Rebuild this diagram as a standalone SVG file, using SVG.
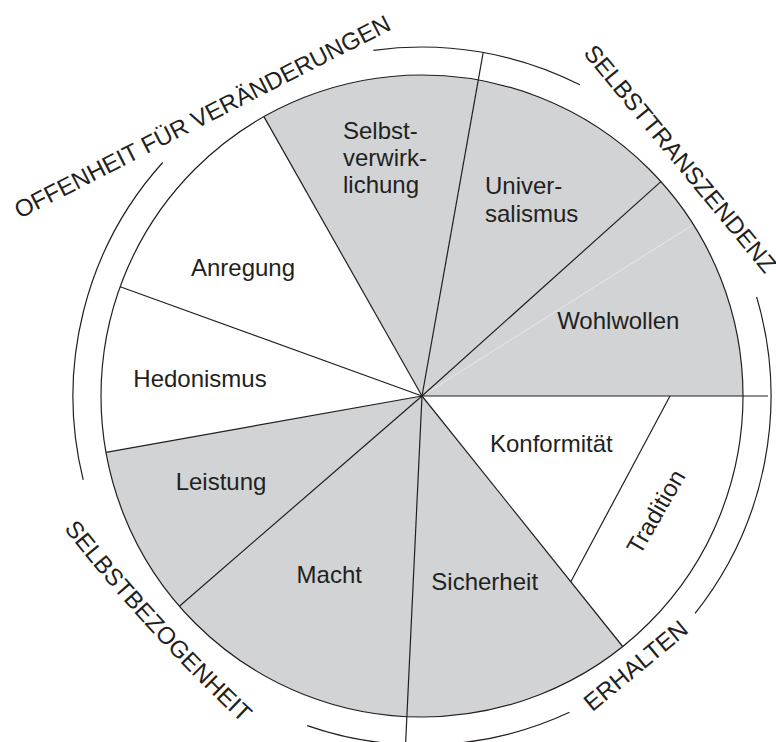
<svg xmlns="http://www.w3.org/2000/svg" width="776" height="742" viewBox="0 0 776 742">
  <style>
    text { font-family: "Liberation Sans", Arial, Helvetica, sans-serif; font-size: 24px; fill: #231f20; }
    .mid { text-anchor: middle; }
    .ln { stroke: #231f20; stroke-width: 1.2; fill: none; }
    .gray { fill: #d1d3d4; stroke: none; }
  </style>
  <rect width="776" height="742" fill="#ffffff"/>

  <!-- sectors fill -->
  <g id="fills">
    <path class="gray" d="M422,396 L743,396 A321,321 0 0 0 263.9,116.6 Z"/>
    <path class="gray" d="M422,396 L106,452.3 A321,321 0 0 0 622.7,646.5 Z"/>
    <line x1="422" y1="396" x2="693.3" y2="224.5" stroke="#ffffff" stroke-width="0.6" opacity="0.8"/>
  </g>

  <g id="connectors">
    <circle class="ln" cx="422" cy="396" r="321"/>
    <!-- outer arcs -->
    <path class="ln" d="M373.4,50.4 A349,349 0 0 1 579.9,84.8"/>
    <path class="ln" d="M162.7,162.5 A349,349 0 0 0 83.2,479.8"/>
    <path class="ln" d="M756.6,296.9 A349,349 0 0 1 695.1,613.3"/>
    <path class="ln" d="M569.5,712.3 A349,349 0 0 1 307.2,725.6"/>
    <!-- spokes -->
    <line class="ln" x1="422" y1="396" x2="768" y2="396"/>
    <line class="ln" x1="422" y1="396" x2="660.9" y2="181.6"/>
    <line class="ln" x1="422" y1="396" x2="483.2" y2="52.4"/>
    <line class="ln" x1="422" y1="396" x2="263.9" y2="116.6"/>
    <line class="ln" x1="422" y1="396" x2="120.2" y2="286.7"/>
    <line class="ln" x1="422" y1="396" x2="106" y2="452.3"/>
    <line class="ln" x1="422" y1="396" x2="179.4" y2="606.2"/>
    <line class="ln" x1="422" y1="396" x2="405.5" y2="745.6"/>
    <line class="ln" x1="422" y1="396" x2="622.7" y2="646.5"/>
    <line class="ln" x1="670" y1="396" x2="570.8" y2="581.8"/>
  </g>

  <g id="selbstverwirklichung">
    <text x="343" y="139">Selbst-</text>
    <text x="343" y="166">verwirk-</text>
    <text x="343" y="193">lichung</text>
  </g>
  <g id="universalismus">
    <text x="485" y="193.5">Univer-</text>
    <text x="485" y="221.5">salismus</text>
  </g>
  <g id="wohlwollen"><text class="mid" x="618.3" y="328.5">Wohlwollen</text></g>
  <g id="konformitaet"><text class="mid" x="551.3" y="452">Konformität</text></g>
  <g id="tradition"><text class="mid" transform="translate(663,516) rotate(-60)">Tradition</text></g>
  <g id="sicherheit"><text class="mid" x="484.7" y="590">Sicherheit</text></g>
  <g id="macht"><text class="mid" x="329.3" y="583">Macht</text></g>
  <g id="leistung"><text class="mid" x="221" y="490">Leistung</text></g>
  <g id="hedonismus"><text class="mid" x="200" y="387">Hedonismus</text></g>
  <g id="anregung"><text class="mid" x="243" y="276">Anregung</text></g>

  <g id="offenheit"><text class="mid" transform="translate(206,124) rotate(-27)">OFFENHEIT FÜR VERÄNDERUNGEN</text></g>
  <g id="selbsttranszendenz"><text class="mid" transform="translate(674,164) rotate(50.5)">SELBSTTRANSZENDENZ</text></g>
  <g id="erhalten"><text class="mid" transform="translate(641,672) rotate(-39.6)">ERHALTEN</text></g>
  <g id="selbstbezogenheit">
    <defs><path id="pSB" d="M63,528 Q146,633 243,724"/></defs>
    <text class="mid"><textPath href="#pSB" startOffset="50%">SELBSTBEZOGENHEIT</textPath></text>
  </g>
</svg>
